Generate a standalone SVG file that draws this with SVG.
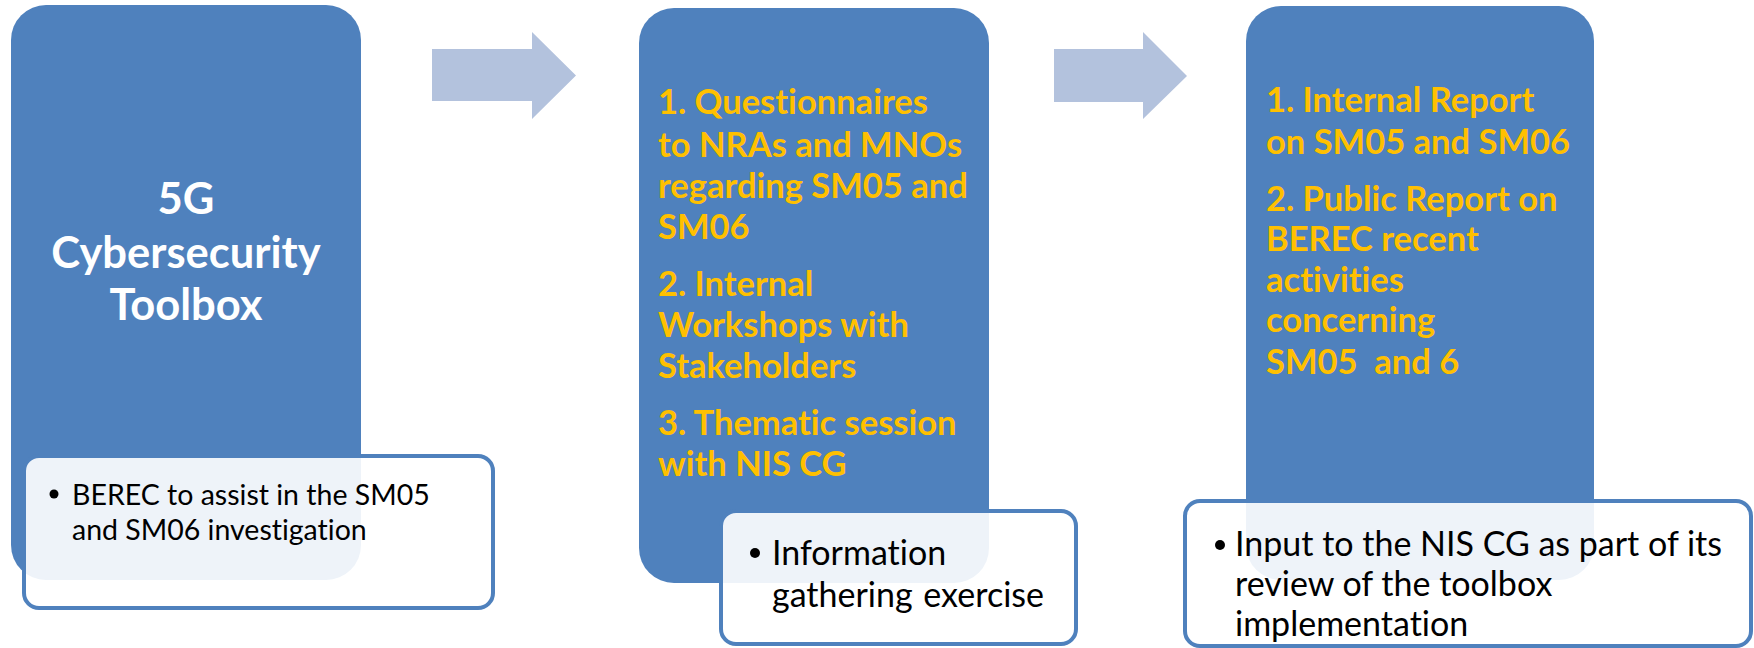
<svg xmlns="http://www.w3.org/2000/svg" width="1754" height="648" viewBox="0 0 1754 648">
<style>
text{font-variant-ligatures:none;font-feature-settings:"liga" 0,"dlig" 0}
.box{fill:#4F81BD}
.call{fill:#FFFFFF;fill-opacity:0.9;stroke:#4F81BD;stroke-width:4}
.arrow{fill:#B3C2DD}
.title{font-family:Lato,"Liberation Sans",sans-serif;font-weight:700;fill:#FFFFFF;font-size:43.5px;text-anchor:middle}
.yel{font-family:Lato,"Liberation Sans",sans-serif;font-weight:700;fill:#FFC000;font-size:34.5px}
.body{font-family:Lato,"Liberation Sans",sans-serif;fill:#000000}
</style>
<rect width="1754" height="648" fill="#FFFFFF"/>
<g id="connectors">
<polygon class="arrow" points="432,49 532,49 532,32 576,75.5 532,119 532,101 432,101"/>
<polygon class="arrow" points="1054,49 1143,49 1143,32 1187,76 1143,119 1143,102 1054,102"/>
</g>
<g id="node1">
<rect class="box" x="11" y="5" width="350" height="575" rx="35"/>
<text class="title" x="186" y="214">5G</text>
<text class="title" x="186" y="268">Cybersecurity</text>
<text class="title" x="186" y="320">Toolbox</text>
</g>
<g id="callout1">
<rect class="call" x="24" y="456" width="469" height="152" rx="15"/>
<circle cx="54" cy="494" r="4.5"/>
<text class="body" font-size="28.5" x="72" y="505">BEREC to assist in the SM05</text>
<text class="body" font-size="28.5" x="72" y="540">and SM06 investigation</text>
</g>
<g id="node2">
<rect class="box" x="639" y="8" width="350" height="575" rx="35"/>
<text class="yel" x="658" y="114">1. Questionnaires</text>
<text class="yel" x="658" y="157">to NRAs and MNOs</text>
<text class="yel" x="658" y="198">regarding SM05 and</text>
<text class="yel" x="658" y="239">SM06</text>
<text class="yel" x="658" y="296">2. Internal</text>
<text class="yel" x="658" y="337">Workshops with</text>
<text class="yel" x="658" y="378">Stakeholders</text>
<text class="yel" x="658" y="435">3. Thematic session</text>
<text class="yel" x="658" y="476">with NIS CG</text>
</g>
<g id="callout2">
<rect class="call" x="721" y="511" width="355" height="133" rx="15"/>
<circle cx="755" cy="553" r="5"/>
<text class="body" font-size="34" x="772" y="565">Information</text>
<text class="body" font-size="34" x="772" y="607" word-spacing="2">gathering exercise</text>
</g>
<g id="node3">
<rect class="box" x="1246" y="6" width="348" height="574" rx="35"/>
<text class="yel" x="1266" y="112">1. Internal Report</text>
<text class="yel" x="1266" y="154">on SM05 and SM06</text>
<text class="yel" x="1266" y="211">2. Public Report on</text>
<text class="yel" x="1266" y="251">BEREC recent</text>
<text class="yel" x="1266" y="292">activities</text>
<text class="yel" x="1266" y="332">concerning</text>
<text class="yel" x="1266" y="374" xml:space="preserve">SM05  and 6</text>
</g>
<g id="callout3">
<rect class="call" x="1185" y="501" width="566" height="145" rx="15"/>
<circle cx="1220" cy="545" r="5"/>
<text class="body" font-size="34" x="1235" y="556">Input to the NIS CG as part of its</text>
<text class="body" font-size="34" x="1235" y="596">review of the toolbox</text>
<text class="body" font-size="34" x="1235" y="636">implementation</text>
</g>
</svg>
